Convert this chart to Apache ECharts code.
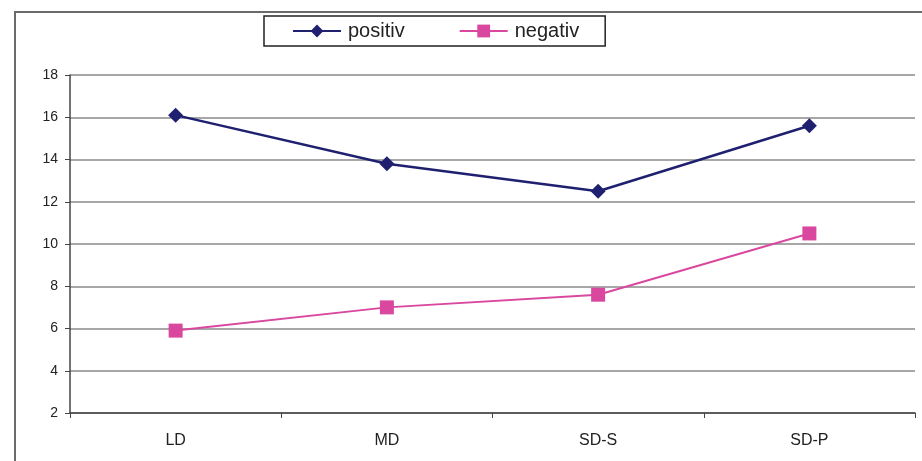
<!DOCTYPE html>
<html><head><meta charset="utf-8">
<script src="https://cdn.jsdelivr.net/npm/echarts@6/dist/echarts.min.js"></script>
<style>html,body{margin:0;padding:0;background:#fff}#c{width:922px;height:461px}</style>
</head><body><div id="c"></div>
<script>
const categories = ['LD', 'MD', 'SD-S', 'SD-P'];
const positiv = [16.1, 13.8, 12.5, 15.6];
const negativ = [5.9, 7.0, 7.6, 10.5];
const yTicks = { min: 2, max: 18, interval: 2 };

const chart = echarts.init(document.getElementById('c'));
chart.setOption({
  animation: false,
  backgroundColor: '#fff',
  graphic: [{
    type: 'rect', shape: { x: 15, y: 12, width: 940, height: 480 },
    style: { fill: 'none', stroke: '#6a6a6a', lineWidth: 2 }, silent: true, z: -1
  }],
  legend: {
    top: 16, left: 264,
    padding: [5, 26, 5, 28],
    borderColor: '#222', borderWidth: 1.5,
    itemWidth: 48, itemHeight: 16, itemGap: 54,
    textStyle: { fontFamily: 'Liberation Sans, Arial, sans-serif', fontSize: 20, color: '#222', padding: [0, 0, 0, 2] },
    data: ['positiv', 'negativ']
  },
  grid: { left: 70, right: 7, top: 75, bottom: 48, containLabel: false },
  xAxis: {
    type: 'category', data: categories, boundaryGap: true,
    axisLine: { lineStyle: { color: '#444', width: 1.5 } },
    axisTick: { show: true, inside: false, length: 5, lineStyle: { color: '#444' } },
    axisLabel: { fontFamily: 'Liberation Sans, Arial, sans-serif', fontSize: 16, color: '#222', margin: 20 }
  },
  yAxis: {
    type: 'value', min: yTicks.min, max: yTicks.max, interval: yTicks.interval,
    axisLine: { show: true, lineStyle: { color: '#444', width: 1.5 } },
    axisTick: { show: true, length: 5, lineStyle: { color: '#444' } },
    axisLabel: { fontFamily: 'Liberation Sans, Arial, sans-serif', fontSize: 14, color: '#222', margin: 12 },
    splitLine: { show: true, lineStyle: { color: '#8a8a8a', width: 1.5 } }
  },
  series: [{
    name: 'positiv', type: 'line', data: positiv,
    symbol: 'diamond', symbolSize: 15,
    lineStyle: { color: '#1f2170', width: 2.5 },
    itemStyle: { color: '#1f2170' }
  }, {
    name: 'negativ', type: 'line', data: negativ,
    symbol: 'rect', symbolSize: 14,
    lineStyle: { color: '#d9489e', width: 2 },
    itemStyle: { color: '#d9489e' }
  }]
});
</script></body></html>
